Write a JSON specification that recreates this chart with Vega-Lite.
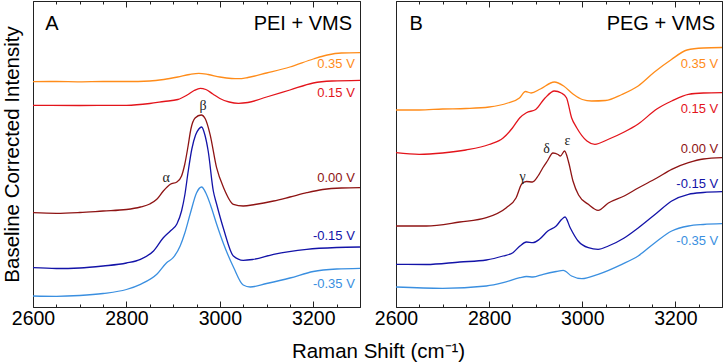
{
  "$schema": "https://vega.github.io/schema/vega-lite/v6.json",
  "padding": {"left": 2, "top": 0, "right": 1, "bottom": 1},
  "bounds": "flush",
  "spacing": 36,
  "title": {"text": "Raman Shift (cm⁻¹)", "orient": "bottom", "anchor": "middle", "fontSize": 20.5, "font": "Liberation Sans", "fontWeight": "normal", "color": "#000", "offset": 11, "dx": 15},
  "datasets": {
    "curves": [
      {"p":"A","v":"0.35 V","x":2600,"y":225.3},{"p":"A","v":"0.35 V","x":2650,"y":225.5},{"p":"A","v":"0.35 V","x":2700,"y":225.2},{"p":"A","v":"0.35 V","x":2750,"y":225.5},{"p":"A","v":"0.35 V","x":2800,"y":225.5},{"p":"A","v":"0.35 V","x":2850,"y":226},{"p":"A","v":"0.35 V","x":2880,"y":227.5},{"p":"A","v":"0.35 V","x":2910,"y":230},{"p":"A","v":"0.35 V","x":2935,"y":232.5},{"p":"A","v":"0.35 V","x":2955,"y":233.7},{"p":"A","v":"0.35 V","x":2975,"y":232.5},{"p":"A","v":"0.35 V","x":3000,"y":230},{"p":"A","v":"0.35 V","x":3025,"y":228.5},{"p":"A","v":"0.35 V","x":3040,"y":228.3},{"p":"A","v":"0.35 V","x":3060,"y":229.5},{"p":"A","v":"0.35 V","x":3100,"y":234},{"p":"A","v":"0.35 V","x":3150,"y":240},{"p":"A","v":"0.35 V","x":3200,"y":248},{"p":"A","v":"0.35 V","x":3230,"y":252},{"p":"A","v":"0.35 V","x":3260,"y":254},{"p":"A","v":"0.35 V","x":3300,"y":254.3},
      {"p":"A","v":"0.15 V","x":2600,"y":201.7},{"p":"A","v":"0.15 V","x":2700,"y":201.5},{"p":"A","v":"0.15 V","x":2800,"y":201.7},{"p":"A","v":"0.15 V","x":2850,"y":203.5},{"p":"A","v":"0.15 V","x":2880,"y":205.5},{"p":"A","v":"0.15 V","x":2910,"y":207.5},{"p":"A","v":"0.15 V","x":2930,"y":212},{"p":"A","v":"0.15 V","x":2945,"y":216.5},{"p":"A","v":"0.15 V","x":2958,"y":218.7},{"p":"A","v":"0.15 V","x":2970,"y":217.5},{"p":"A","v":"0.15 V","x":2985,"y":213},{"p":"A","v":"0.15 V","x":3000,"y":208.5},{"p":"A","v":"0.15 V","x":3020,"y":205},{"p":"A","v":"0.15 V","x":3040,"y":203.7},{"p":"A","v":"0.15 V","x":3060,"y":204.5},{"p":"A","v":"0.15 V","x":3100,"y":210},{"p":"A","v":"0.15 V","x":3150,"y":217},{"p":"A","v":"0.15 V","x":3200,"y":224},{"p":"A","v":"0.15 V","x":3240,"y":226},{"p":"A","v":"0.15 V","x":3300,"y":226.7},
      {"p":"A","v":"0.00 V","x":2600,"y":94.3},{"p":"A","v":"0.00 V","x":2650,"y":93.7},{"p":"A","v":"0.00 V","x":2700,"y":94.5},{"p":"A","v":"0.00 V","x":2750,"y":96},{"p":"A","v":"0.00 V","x":2800,"y":97.5},{"p":"A","v":"0.00 V","x":2830,"y":100},{"p":"A","v":"0.00 V","x":2850,"y":103},{"p":"A","v":"0.00 V","x":2865,"y":107.7},{"p":"A","v":"0.00 V","x":2879,"y":116},{"p":"A","v":"0.00 V","x":2894,"y":122.7},{"p":"A","v":"0.00 V","x":2908,"y":125},{"p":"A","v":"0.00 V","x":2918,"y":131},{"p":"A","v":"0.00 V","x":2925,"y":143},{"p":"A","v":"0.00 V","x":2932,"y":161},{"p":"A","v":"0.00 V","x":2938,"y":178},{"p":"A","v":"0.00 V","x":2947,"y":189},{"p":"A","v":"0.00 V","x":2960,"y":192},{"p":"A","v":"0.00 V","x":2969,"y":188},{"p":"A","v":"0.00 V","x":2979,"y":172.7},{"p":"A","v":"0.00 V","x":2993,"y":139.3},{"p":"A","v":"0.00 V","x":3008,"y":119.3},{"p":"A","v":"0.00 V","x":3029,"y":102.7},{"p":"A","v":"0.00 V","x":3050,"y":101},{"p":"A","v":"0.00 V","x":3075,"y":102.5},{"p":"A","v":"0.00 V","x":3115,"y":106},{"p":"A","v":"0.00 V","x":3150,"y":110},{"p":"A","v":"0.00 V","x":3186,"y":114.3},{"p":"A","v":"0.00 V","x":3220,"y":117.5},{"p":"A","v":"0.00 V","x":3260,"y":119},{"p":"A","v":"0.00 V","x":3300,"y":119.3},
      {"p":"A","v":"-0.15 V","x":2600,"y":39.3},{"p":"A","v":"-0.15 V","x":2650,"y":38.5},{"p":"A","v":"-0.15 V","x":2700,"y":39},{"p":"A","v":"-0.15 V","x":2750,"y":41},{"p":"A","v":"-0.15 V","x":2800,"y":44},{"p":"A","v":"-0.15 V","x":2830,"y":47.7},{"p":"A","v":"-0.15 V","x":2858,"y":56},{"p":"A","v":"-0.15 V","x":2879,"y":69.3},{"p":"A","v":"-0.15 V","x":2894,"y":76},{"p":"A","v":"-0.15 V","x":2908,"y":83},{"p":"A","v":"-0.15 V","x":2918,"y":96},{"p":"A","v":"-0.15 V","x":2925,"y":112},{"p":"A","v":"-0.15 V","x":2932,"y":135},{"p":"A","v":"-0.15 V","x":2940,"y":158},{"p":"A","v":"-0.15 V","x":2948,"y":172},{"p":"A","v":"-0.15 V","x":2955,"y":178},{"p":"A","v":"-0.15 V","x":2961,"y":180},{"p":"A","v":"-0.15 V","x":2968,"y":172},{"p":"A","v":"-0.15 V","x":2975,"y":156},{"p":"A","v":"-0.15 V","x":2986,"y":116},{"p":"A","v":"-0.15 V","x":2993,"y":103},{"p":"A","v":"-0.15 V","x":3008,"y":78},{"p":"A","v":"-0.15 V","x":3029,"y":51},{"p":"A","v":"-0.15 V","x":3050,"y":46.7},{"p":"A","v":"-0.15 V","x":3070,"y":47.5},{"p":"A","v":"-0.15 V","x":3115,"y":52.7},{"p":"A","v":"-0.15 V","x":3186,"y":57.7},{"p":"A","v":"-0.15 V","x":3250,"y":59.5},{"p":"A","v":"-0.15 V","x":3300,"y":60},
      {"p":"A","v":"-0.35 V","x":2600,"y":11},{"p":"A","v":"-0.35 V","x":2650,"y":10.7},{"p":"A","v":"-0.35 V","x":2700,"y":11.5},{"p":"A","v":"-0.35 V","x":2750,"y":13.5},{"p":"A","v":"-0.35 V","x":2800,"y":17.5},{"p":"A","v":"-0.35 V","x":2830,"y":22.7},{"p":"A","v":"-0.35 V","x":2865,"y":32.7},{"p":"A","v":"-0.35 V","x":2886,"y":44.3},{"p":"A","v":"-0.35 V","x":2900,"y":49.3},{"p":"A","v":"-0.35 V","x":2915,"y":61},{"p":"A","v":"-0.35 V","x":2925,"y":74},{"p":"A","v":"-0.35 V","x":2937,"y":94},{"p":"A","v":"-0.35 V","x":2950,"y":114},{"p":"A","v":"-0.35 V","x":2961,"y":120},{"p":"A","v":"-0.35 V","x":2970,"y":114},{"p":"A","v":"-0.35 V","x":2980,"y":102},{"p":"A","v":"-0.35 V","x":2993,"y":83},{"p":"A","v":"-0.35 V","x":3008,"y":63},{"p":"A","v":"-0.35 V","x":3030,"y":39},{"p":"A","v":"-0.35 V","x":3050,"y":22},{"p":"A","v":"-0.35 V","x":3065,"y":20},{"p":"A","v":"-0.35 V","x":3100,"y":23.5},{"p":"A","v":"-0.35 V","x":3150,"y":29},{"p":"A","v":"-0.35 V","x":3200,"y":35.5},{"p":"A","v":"-0.35 V","x":3250,"y":38},{"p":"A","v":"-0.35 V","x":3300,"y":38.7},
      {"p":"B","v":"0.35 V","x":2600,"y":197},{"p":"B","v":"0.35 V","x":2650,"y":197},{"p":"B","v":"0.35 V","x":2700,"y":198},{"p":"B","v":"0.35 V","x":2750,"y":198.5},{"p":"B","v":"0.35 V","x":2800,"y":200},{"p":"B","v":"0.35 V","x":2840,"y":204},{"p":"B","v":"0.35 V","x":2865,"y":209},{"p":"B","v":"0.35 V","x":2878,"y":215.5},{"p":"B","v":"0.35 V","x":2890,"y":214},{"p":"B","v":"0.35 V","x":2910,"y":218},{"p":"B","v":"0.35 V","x":2940,"y":225},{"p":"B","v":"0.35 V","x":2960,"y":221},{"p":"B","v":"0.35 V","x":2980,"y":213},{"p":"B","v":"0.35 V","x":3000,"y":207.5},{"p":"B","v":"0.35 V","x":3020,"y":206},{"p":"B","v":"0.35 V","x":3050,"y":206.5},{"p":"B","v":"0.35 V","x":3085,"y":212.5},{"p":"B","v":"0.35 V","x":3120,"y":221},{"p":"B","v":"0.35 V","x":3155,"y":235},{"p":"B","v":"0.35 V","x":3190,"y":247},{"p":"B","v":"0.35 V","x":3225,"y":257},{"p":"B","v":"0.35 V","x":3260,"y":259},{"p":"B","v":"0.35 V","x":3300,"y":259.5},
      {"p":"B","v":"0.15 V","x":2600,"y":154.3},{"p":"B","v":"0.15 V","x":2650,"y":152.7},{"p":"B","v":"0.15 V","x":2700,"y":154},{"p":"B","v":"0.15 V","x":2750,"y":157},{"p":"B","v":"0.15 V","x":2800,"y":162.5},{"p":"B","v":"0.15 V","x":2830,"y":169},{"p":"B","v":"0.15 V","x":2850,"y":179},{"p":"B","v":"0.15 V","x":2866,"y":189.3},{"p":"B","v":"0.15 V","x":2880,"y":194.3},{"p":"B","v":"0.15 V","x":2900,"y":197.5},{"p":"B","v":"0.15 V","x":2920,"y":209},{"p":"B","v":"0.15 V","x":2940,"y":216},{"p":"B","v":"0.15 V","x":2955,"y":214},{"p":"B","v":"0.15 V","x":2966,"y":209.3},{"p":"B","v":"0.15 V","x":2977,"y":189.3},{"p":"B","v":"0.15 V","x":2988,"y":179.3},{"p":"B","v":"0.15 V","x":3010,"y":166},{"p":"B","v":"0.15 V","x":3027,"y":162.7},{"p":"B","v":"0.15 V","x":3055,"y":167.5},{"p":"B","v":"0.15 V","x":3090,"y":175},{"p":"B","v":"0.15 V","x":3120,"y":183},{"p":"B","v":"0.15 V","x":3160,"y":198},{"p":"B","v":"0.15 V","x":3192,"y":206},{"p":"B","v":"0.15 V","x":3228,"y":212.7},{"p":"B","v":"0.15 V","x":3260,"y":214},{"p":"B","v":"0.15 V","x":3300,"y":214.3},
      {"p":"B","v":"0.00 V","x":2600,"y":81},{"p":"B","v":"0.00 V","x":2665,"y":81},{"p":"B","v":"0.00 V","x":2737,"y":85},{"p":"B","v":"0.00 V","x":2794,"y":89.3},{"p":"B","v":"0.00 V","x":2837,"y":99.3},{"p":"B","v":"0.00 V","x":2858,"y":109.3},{"p":"B","v":"0.00 V","x":2870,"y":123},{"p":"B","v":"0.00 V","x":2880,"y":125.5},{"p":"B","v":"0.00 V","x":2893,"y":125},{"p":"B","v":"0.00 V","x":2905,"y":131},{"p":"B","v":"0.00 V","x":2915,"y":139},{"p":"B","v":"0.00 V","x":2925,"y":146},{"p":"B","v":"0.00 V","x":2937,"y":154},{"p":"B","v":"0.00 V","x":2948,"y":152.5},{"p":"B","v":"0.00 V","x":2953,"y":151},{"p":"B","v":"0.00 V","x":2962,"y":156},{"p":"B","v":"0.00 V","x":2970,"y":146},{"p":"B","v":"0.00 V","x":2980,"y":126},{"p":"B","v":"0.00 V","x":2992,"y":112},{"p":"B","v":"0.00 V","x":3013,"y":102.7},{"p":"B","v":"0.00 V","x":3034,"y":96.7},{"p":"B","v":"0.00 V","x":3056,"y":104},{"p":"B","v":"0.00 V","x":3090,"y":111},{"p":"B","v":"0.00 V","x":3120,"y":119},{"p":"B","v":"0.00 V","x":3160,"y":129},{"p":"B","v":"0.00 V","x":3192,"y":137.7},{"p":"B","v":"0.00 V","x":3228,"y":144.3},{"p":"B","v":"0.00 V","x":3260,"y":148},{"p":"B","v":"0.00 V","x":3300,"y":149.3},
      {"p":"B","v":"-0.15 V","x":2600,"y":42.7},{"p":"B","v":"-0.15 V","x":2665,"y":42.5},{"p":"B","v":"-0.15 V","x":2737,"y":45},{"p":"B","v":"-0.15 V","x":2794,"y":47},{"p":"B","v":"-0.15 V","x":2830,"y":51},{"p":"B","v":"-0.15 V","x":2851,"y":54.3},{"p":"B","v":"-0.15 V","x":2866,"y":61},{"p":"B","v":"-0.15 V","x":2880,"y":65},{"p":"B","v":"-0.15 V","x":2894,"y":64.3},{"p":"B","v":"-0.15 V","x":2908,"y":67.7},{"p":"B","v":"-0.15 V","x":2926,"y":76},{"p":"B","v":"-0.15 V","x":2944,"y":81},{"p":"B","v":"-0.15 V","x":2956,"y":87.7},{"p":"B","v":"-0.15 V","x":2963,"y":90},{"p":"B","v":"-0.15 V","x":2974,"y":79.3},{"p":"B","v":"-0.15 V","x":2991,"y":66},{"p":"B","v":"-0.15 V","x":3013,"y":59.3},{"p":"B","v":"-0.15 V","x":3034,"y":57.7},{"p":"B","v":"-0.15 V","x":3056,"y":61},{"p":"B","v":"-0.15 V","x":3090,"y":69},{"p":"B","v":"-0.15 V","x":3120,"y":79},{"p":"B","v":"-0.15 V","x":3160,"y":94},{"p":"B","v":"-0.15 V","x":3192,"y":106},{"p":"B","v":"-0.15 V","x":3228,"y":112.7},{"p":"B","v":"-0.15 V","x":3260,"y":114.5},{"p":"B","v":"-0.15 V","x":3300,"y":115.3},
      {"p":"B","v":"-0.35 V","x":2600,"y":20},{"p":"B","v":"-0.35 V","x":2700,"y":18.7},{"p":"B","v":"-0.35 V","x":2794,"y":21},{"p":"B","v":"-0.35 V","x":2830,"y":24.3},{"p":"B","v":"-0.35 V","x":2866,"y":29.3},{"p":"B","v":"-0.35 V","x":2880,"y":30.5},{"p":"B","v":"-0.35 V","x":2894,"y":30},{"p":"B","v":"-0.35 V","x":2916,"y":32.7},{"p":"B","v":"-0.35 V","x":2944,"y":35.5},{"p":"B","v":"-0.35 V","x":2959,"y":36.7},{"p":"B","v":"-0.35 V","x":2977,"y":31},{"p":"B","v":"-0.35 V","x":2999,"y":28.3},{"p":"B","v":"-0.35 V","x":3034,"y":32.7},{"p":"B","v":"-0.35 V","x":3085,"y":42.7},{"p":"B","v":"-0.35 V","x":3120,"y":51},{"p":"B","v":"-0.35 V","x":3156,"y":64.3},{"p":"B","v":"-0.35 V","x":3192,"y":76},{"p":"B","v":"-0.35 V","x":3228,"y":81},{"p":"B","v":"-0.35 V","x":3260,"y":82.5},{"p":"B","v":"-0.35 V","x":3300,"y":83.3}
    ],
    "labels": [
      {"p":"A","v":"0.35 V","x":3289,"y":242.7},{"p":"A","v":"0.15 V","x":3289,"y":214.3},{"p":"A","v":"0.00 V","x":3289,"y":129.3},{"p":"A","v":"-0.15 V","x":3289,"y":71},{"p":"A","v":"-0.35 V","x":3289,"y":22.7},
      {"p":"B","v":"0.35 V","x":3292,"y":242.7},{"p":"B","v":"0.15 V","x":3292,"y":197.7},{"p":"B","v":"0.00 V","x":3292,"y":157.7},{"p":"B","v":"-0.15 V","x":3292,"y":122.7},{"p":"B","v":"-0.35 V","x":3292,"y":66}
    ],
    "greek": [
      {"p":"A","t":"α","x":2885,"y":129},{"p":"A","t":"β","x":2964,"y":201},
      {"p":"B","t":"γ","x":2872,"y":130},{"p":"B","t":"δ","x":2923,"y":158},{"p":"B","t":"ε","x":2968,"y":166}
    ],
    "tagsL": [{"p":"A","t":"A","x":2626,"y":283},{"p":"B","t":"B","x":2629,"y":283}],
    "tagsR": [{"p":"A","t":"PEI + VMS","x":3283,"y":283},{"p":"B","t":"PEG + VMS","x":3285,"y":283}]
  },
  "hconcat": [
    {
      "width": 327, "height": 306,
      "layer": [
        {"data": {"name": "curves"}, "transform": [{"filter": "datum.p === 'A'"}],
         "mark": {"type": "line", "strokeWidth": 1.3, "interpolate": "monotone"},
         "encoding": {
           "x": {"field": "x", "type": "quantitative", "scale": {"domain": [2600, 3300], "nice": false},
                 "axis": {"orient": "bottom", "values": [2600,2650,2700,2750,2800,2850,2900,2950,3000,3050,3100,3150,3200,3250,3300], "format": "d", "labelExpr": "datum.value % 200 === 0 ? datum.label : ''", "tickSize": {"condition": {"test": "datum.value % 200 === 0", "value": -6}, "value": -3}, "labelPadding": 8, "labelFlush": false, "labelOverlap": false, "title": null}},
           "y": {"field": "y", "type": "quantitative", "scale": {"domain": [0, 306], "nice": false, "zero": false},
                 "axis": {"title": "Baseline Corrected Intensity", "labels": false, "ticks": false, "domain": false, "grid": false, "titlePadding": 10.5, "titleFontSize": 20.5, "titleFont": "Liberation Sans", "titleFontWeight": "normal", "titleColor": "#000"}},
           "color": {"field": "v", "type": "nominal", "scale": {"domain": ["0.35 V","0.15 V","0.00 V","-0.15 V","-0.35 V"], "range": ["#FF8C1A","#E3141B","#8E1414","#1313A8","#3A8FE0"]}, "legend": null}
         }},
        {"data": {"name": "labels"}, "transform": [{"filter": "datum.p === 'A'"}],
         "mark": {"type": "text", "align": "right", "baseline": "middle", "fontSize": 13, "font": "Liberation Sans"},
         "encoding": {
           "x": {"field": "x", "type": "quantitative",
                 "axis": {"orient": "top", "values": [2600,2650,2700,2750,2800,2850,2900,2950,3000,3050,3100,3150,3200,3250,3300], "labels": false, "tickSize": {"condition": {"test": "datum.value % 200 === 0", "value": -6}, "value": -3}, "title": null}},
           "y": {"field": "y", "type": "quantitative"},
           "text": {"field": "v"},
           "color": {"field": "v", "type": "nominal", "legend": null}
         }},
        {"data": {"name": "greek"}, "transform": [{"filter": "datum.p === 'A'"}],
         "mark": {"type": "text", "align": "center", "baseline": "middle", "fontSize": 14, "font": "Liberation Serif", "color": "#222"},
         "encoding": {
           "x": {"field": "x", "type": "quantitative", "axis": null},
           "y": {"field": "y", "type": "quantitative"},
           "text": {"field": "t"}
         }},
        {"data": {"name": "tagsL"}, "transform": [{"filter": "datum.p === 'A'"}],
         "mark": {"type": "text", "align": "left", "baseline": "middle", "fontSize": 20, "font": "Liberation Sans", "color": "#000"},
         "encoding": {
           "x": {"field": "x", "type": "quantitative", "axis": null},
           "y": {"field": "y", "type": "quantitative"},
           "text": {"field": "t"}
         }},
        {"data": {"name": "tagsR"}, "transform": [{"filter": "datum.p === 'A'"}],
         "mark": {"type": "text", "align": "right", "baseline": "middle", "fontSize": 20, "font": "Liberation Sans", "color": "#000"},
         "encoding": {
           "x": {"field": "x", "type": "quantitative", "axis": null},
           "y": {"field": "y", "type": "quantitative"},
           "text": {"field": "t"}
         }}
      ],
      "resolve": {"axis": {"x": "independent"}}
    },
    {
      "width": 326, "height": 306,
      "layer": [
        {"data": {"name": "curves"}, "transform": [{"filter": "datum.p === 'B'"}],
         "mark": {"type": "line", "strokeWidth": 1.3, "interpolate": "monotone"},
         "encoding": {
           "x": {"field": "x", "type": "quantitative", "scale": {"domain": [2600, 3300], "nice": false},
                 "axis": {"orient": "bottom", "values": [2600,2650,2700,2750,2800,2850,2900,2950,3000,3050,3100,3150,3200,3250,3300], "format": "d", "labelExpr": "datum.value % 200 === 0 ? datum.label : ''", "tickSize": {"condition": {"test": "datum.value % 200 === 0", "value": -6}, "value": -3}, "labelPadding": 8, "labelFlush": false, "labelOverlap": false, "title": null}},
           "y": {"field": "y", "type": "quantitative", "scale": {"domain": [0, 306], "nice": false, "zero": false}, "axis": null},
           "color": {"field": "v", "type": "nominal", "scale": {"domain": ["0.35 V","0.15 V","0.00 V","-0.15 V","-0.35 V"], "range": ["#FF8C1A","#E3141B","#8E1414","#1313A8","#3A8FE0"]}, "legend": null}
         }},
        {"data": {"name": "labels"}, "transform": [{"filter": "datum.p === 'B'"}],
         "mark": {"type": "text", "align": "right", "baseline": "middle", "fontSize": 13, "font": "Liberation Sans"},
         "encoding": {
           "x": {"field": "x", "type": "quantitative",
                 "axis": {"orient": "top", "values": [2600,2650,2700,2750,2800,2850,2900,2950,3000,3050,3100,3150,3200,3250,3300], "labels": false, "tickSize": {"condition": {"test": "datum.value % 200 === 0", "value": -6}, "value": -3}, "title": null}},
           "y": {"field": "y", "type": "quantitative", "axis": null},
           "text": {"field": "v"},
           "color": {"field": "v", "type": "nominal", "legend": null}
         }},
        {"data": {"name": "greek"}, "transform": [{"filter": "datum.p === 'B'"}],
         "mark": {"type": "text", "align": "center", "baseline": "middle", "fontSize": 14, "font": "Liberation Serif", "color": "#222"},
         "encoding": {
           "x": {"field": "x", "type": "quantitative", "axis": null},
           "y": {"field": "y", "type": "quantitative", "axis": null},
           "text": {"field": "t"}
         }},
        {"data": {"name": "tagsL"}, "transform": [{"filter": "datum.p === 'B'"}],
         "mark": {"type": "text", "align": "left", "baseline": "middle", "fontSize": 20, "font": "Liberation Sans", "color": "#000"},
         "encoding": {
           "x": {"field": "x", "type": "quantitative", "axis": null},
           "y": {"field": "y", "type": "quantitative", "axis": null},
           "text": {"field": "t"}
         }},
        {"data": {"name": "tagsR"}, "transform": [{"filter": "datum.p === 'B'"}],
         "mark": {"type": "text", "align": "right", "baseline": "middle", "fontSize": 20, "font": "Liberation Sans", "color": "#000"},
         "encoding": {
           "x": {"field": "x", "type": "quantitative", "axis": null},
           "y": {"field": "y", "type": "quantitative", "axis": null},
           "text": {"field": "t"}
         }}
      ],
      "resolve": {"axis": {"x": "independent"}}
    }
  ],
  "config": {
    "view": {"stroke": "#222", "strokeWidth": 1},
    "font": "Liberation Sans",
    "axis": {"grid": false, "domainColor": "#222", "tickColor": "#222", "tickWidth": 1, "labelFontSize": 19.5, "labelFont": "Liberation Sans", "labelColor": "#000"}
  }
}
